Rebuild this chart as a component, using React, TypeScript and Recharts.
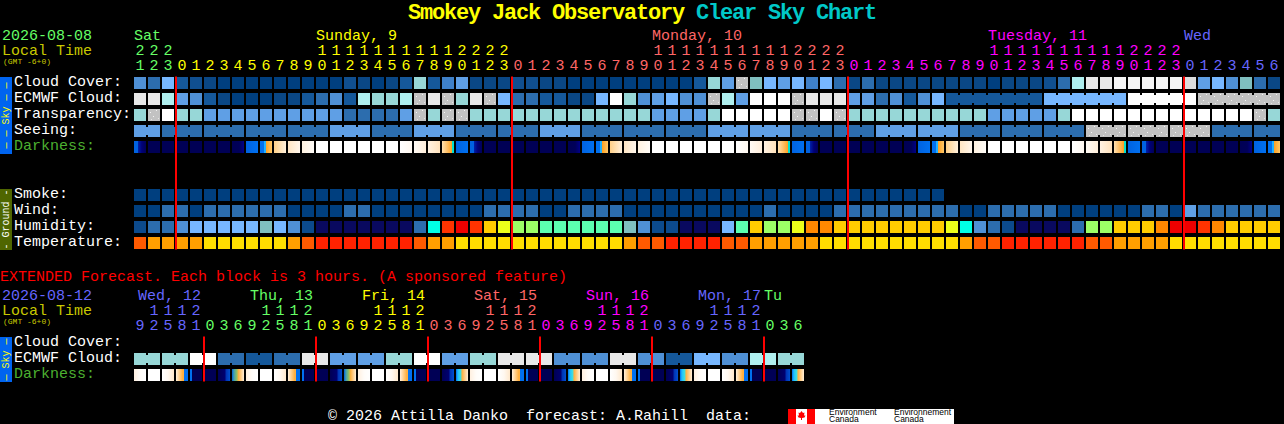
import { ScatterChart, Scatter, XAxis, YAxis } from 'recharts';

const FONT = '"Liberation Mono", monospace';

// ---- hourly chart (one block per hour) ----
const hours = [
  21, 22, 23,
  0, 1, 2, 3, 4, 5, 6, 7, 8, 9, 10, 11, 12, 13, 14, 15, 16, 17, 18, 19, 20, 21, 22, 23,
  0, 1, 2, 3, 4, 5, 6, 7, 8, 9, 10, 11, 12, 13, 14, 15, 16, 17, 18, 19, 20, 21, 22, 23,
  0, 1, 2, 3, 4, 5, 6, 7, 8, 9, 10, 11, 12, 13, 14, 15, 16, 17, 18, 19, 20, 21, 22, 23,
  0, 1, 2, 3, 4, 5, 6,
];
const dayLabels = ['Sat', 'Sunday, 9', 'Monday, 10', 'Tuesday, 11', 'Wed'];
const dayLabelCells = [0, 13, 37, 61, 75];
const midnights = [3, 27, 51, 75];
const rowLabels = ['Cloud Cover:', 'ECMWF Cloud:', 'Transparency:', 'Seeing:', 'Darkness:', '', '', 'Smoke:', 'Wind:', 'Humidity:', 'Temperature:'];

const cloudLevels = [
  6, 4, 8, 3, 2, 1, 0, 0, 0, 0, 0, 0, 0, 0, 0, 2, 1, 0, 1, 3, 10,
  3, 5, 7, 1, 1, 1, 2, 2, 1, 1, 0, 0, 0, 0, 0, 0, 0, 0, 0, 3, 10, 7, 12, 9, 8, 7, 8, 5, 8, 4, 1,
  4, 1, 1, 1, 1, 1, 1, 1, 1, 0, 1, 1, 1, 2, 4, 11, 14, 14, 15, 15, 15, 15, 15, 13, 7, 8, 6, 9, 4, 1,
];
const ecmwfLevels = [
  14, 14, 11, 7, 6, 3, 1, 0, 0, 0, 1, 1, 3, 4, 6, 3, 11, 10, 10, 11, 12,
  14, 12, 10, 14, 12, 8, 4, 4, 3, 3, 1, 1, 8, 16, 10, 6, 7, 8, 6, 6, 12, 11, 7, 16, 16, 16, 12, 14, 14, 14, 7,
  7, 4, 6, 3, 6, 8, 3, 3, 3, 3, 3, 3, 3, 8, 8, 8, 8, 8, 8, 16, 16, 16, 16, 16, 12, 12, 12, 12, 12, 12,
];
const ecmwfRunStart = 58;
const ecmwfRuns = [7, 6, 5, 6];
const transparencyLevels = [
  10, 12, 16, 10, 10, 7, 7, 7, 7, 7, 7, 7, 7, 7, 7, 4, 4, 4, 4, 7, 12,
  10, 12, 12, 10, 10, 10, 10, 10, 10, 10, 10, 10, 10, 10, 10, 10, 7, 7, 7, 7, 10, 16, 16, 16, 16, 16, 12, 12, 16, 12, 10,
  10, 10, 10, 10, 10, 10, 10, 10, 10, 7, 7, 7, 7, 7, 10, 16, 16, 16, 16, 16, 16, 16, 16, 16, 16, 16, 16, 16, 12, 10,
];
const seeingLevels = [
  7, 7, 4, 4, 4, 4, 4, 4, 4, 4, 4, 4, 4, 4, 7, 7, 7, 4, 4, 4, 7,
  7, 7, 4, 4, 4, 4, 4, 4, 7, 7, 7, 4, 4, 4, 4, 4, 4, 4, 4, 4, 7, 7, 7, 7, 7, 7, 4, 4, 4, 4, 4,
  4, 7, 7, 7, 7, 7, 7, 4, 4, 4, 4, 4, 4, 4, 4, 4, 12, 12, 12, 12, 12, 12, 12, 12, 12, 4, 4, 4, 4, 4,
];
const seeingRuns = [2, 3, 3, 3, 3, 3, 3, 3, 3, 3, 3, 3, 3, 3, 3, 3, 3, 3, 3, 3, 3, 3, 3, 3, 3, 3, 3, 2];
const darknessKinds = [
  12, 0, 0, 0, 0, 0, 0, 1, 2, 3, 4, 5, 6, 7, 7, 7, 7, 7, 7, 8, 9, 10, 11, 2,
  12, 0, 0, 0, 0, 0, 0, 1, 2, 3, 4, 5, 6, 7, 7, 7, 7, 7, 7, 8, 9, 10, 11, 2,
  12, 0, 0, 0, 0, 0, 0, 1, 2, 3, 4, 5, 6, 7, 7, 7, 7, 7, 7, 8, 9, 10, 11, 2,
  12, 0, 0, 0, 0, 0, 0, 1, 2, 3,
];
const smokeLevels = [
  0, 0, 0, 0, 0, 0, 0, 0, 0, 0, 0, 0, 0, 0, 0, 0, 0, 0, 0, 0, 0, 0, 0, 0, 0, 0, 0, 0, 0,
  0, 0, 0, 0, 0, 0, 0, 0, 0, 0, 0, 0, 0, 0, 0, 0, 0, 0, 0, 0, 0, 0, 0, 0, 0, 0, 0, 0, 0,
];
const windLevels = [
  0, 0, 4, 4, 0, 4, 4, 4, 4, 4, 4, 0, 0, 0, 0, 4, 4, 0, 0, 0, 0,
  0, 0, 0, 0, 4, 4, 4, 4, 0, 0, 4, 4, 4, 4, 0, 0, 0, 0, 0, 0, 0, 0, 0, 0, 4, 0, 0, 0, 0, 4, 4,
  4, 4, 4, 4, 4, 4, 4, 0, 0, 4, 4, 4, 4, 4, 0, 0, 0, 0, 0, 0, 4, 4, 0, 7, 4, 4, 4, 4, 4, 4,
];
const humidityLevels = [
  1, 2, 2, 3, 4, 4, 4, 4, 4, 5, 4, 3, 1, 0, 0, 0, 0, 0, 0, 0, 2,
  13, 11, 12, 11, 9, 8, 7, 7, 6, 6, 6, 6, 6, 6, 5, 3, 1, 1, 0, 0, 0, 4, 6, 9, 7, 7, 8, 10, 10, 9, 9,
  9, 9, 9, 9, 9, 9, 8, 13, 3, 2, 1, 0, 0, 0, 0, 2, 7, 7, 9, 9, 9, 10, 12, 12, 11, 10, 9, 9, 9, 9,
];
const temperatureLevels = [
  1, 2, 2, 2, 2, 3, 3, 3, 3, 3, 3, 2, 1, 0, 0, 0, 0, 0, 0, 0, 1,
  2, 2, 3, 3, 3, 3, 3, 3, 3, 3, 3, 3, 3, 3, 2, 1, 1, 0, 0, 0, 0, 1, 1, 2, 2, 2, 2, 2, 3, 3, 3,
  3, 3, 3, 3, 3, 3, 3, 2, 1, 1, 0, 0, 0, 0, 0, 0, 1, 1, 2, 2, 2, 2, 3, 3, 3, 3, 3, 3, 3, 3,
];

// ---- extended chart (one block per 3 hours) ----
const extHours = [
  9, 12, 15, 18, 21,
  0, 3, 6, 9, 12, 15, 18, 21,
  0, 3, 6, 9, 12, 15, 18, 21,
  0, 3, 6, 9, 12, 15, 18, 21,
  0, 3, 6, 9, 12, 15, 18, 21,
  0, 3, 6, 9, 12, 15, 18, 21,
  0, 3, 6,
];
const extDayLabels = ['Wed, 12', 'Thu, 13', 'Fri, 14', 'Sat, 15', 'Sun, 16', 'Mon, 17', 'Tu'];
const extDayLabelCells = [0, 8, 16, 24, 32, 40, 45];
const extMidnights = [5, 13, 21, 29, 37, 45];
const extRowLabels = ['Cloud Cover:', 'ECMWF Cloud:', 'Darkness:'];
const extEcmwfLevels = [
  10, 10, 10, 10, 16, 16, 4, 4, 3, 3, 4, 4, 14, 14, 7, 7, 7, 7, 10, 10, 16, 16, 7, 7,
  10, 10, 14, 14, 14, 14, 6, 6, 6, 6, 14, 14, 6, 6, 3, 3, 8, 8, 6, 6, 11, 11, 10, 10,
];
const extEcmwfRuns = [2, 2, 2, 2, 2, 2, 2, 2, 2, 2, 2, 2, 2, 2, 2, 2, 2, 2, 2, 2, 2, 2, 2, 2];
const extDarknessKinds = [
  13, 7, 14, 15, 16, 0, 17, 18,
  13, 7, 14, 15, 16, 0, 17, 18,
  13, 7, 14, 15, 16, 0, 17, 19,
  13, 7, 14, 15, 16, 0, 17, 19,
  13, 7, 14, 15, 16, 0, 17, 19,
  13, 7, 14, 15, 16, 0, 17, 19,
];

// ---- colours ----
const skyColors = ['#003F7F', '#0A4785', '#104F90', '#15589A', '#2C6DAE', '#3F80C8', '#4F90D5', '#5F9FE5', '#77B7FF', '#7FBFBF', '#97D7D7', '#AFEFEF', '#C2C2C2', '#DCDCDC', '#E8E8E8', '#F5F5F5', '#FFFFFF'];
const humidityColors = ['#09095F', '#0C4A8C', '#2C6DAE', '#4F90D5', '#77B7FF', '#7FBFBF', '#5CFFB0', '#9CFF66', '#ECFF1A', '#FFCC00', '#FF8800', '#FF3300', '#EE0000', '#00FFE5'];
const temperatureColors = ['#FF2200', '#FF5A00', '#FF9F00', '#FFDD00'];
const dayColors = ['#66FF66', '#FFFF00', '#FF6666', '#FF00FF', '#6666FF'];
const extDayColors = ['#6666FF', '#66FF66', '#FFFF00', '#FF6666', '#FF00FF', '#6666FF', '#66FF66'];

type Stop = [number, string];
const darknessStops: Stop[][] = [
  [[0, '#000055'], [1, '#000055']], // 0 night
  [[0, '#000055'], [0.6, '#000058'], [1, '#000088']], // 1 before dawn
  [[0, '#0062E0'], [1, '#0070F0']], // 2 twilight
  [[0, '#0070F0'], [0.33, '#0070F0'], [0.34, '#20B0FF'], [0.5, '#20B0FF'], [0.51, '#FFA020'], [1, '#FFC868']], // 3 dawn
  [[0, '#FFD088'], [1, '#FFF0DC']], // 4
  [[0, '#FFE6C4'], [1, '#FFF6EC']], // 5
  [[0, '#FFF2E0'], [1, '#FFFCF8']], // 6
  [[0, '#FFFFFF'], [1, '#FFFFFF']], // 7 day
  [[0, '#FFFFFF'], [1, '#FFF8F0']], // 8
  [[0, '#FFFAF4'], [1, '#FFEEDA']], // 9
  [[0, '#FFF2E2'], [1, '#FFE2BC']], // 10
  [[0, '#FFE0B0'], [0.75, '#FFA830'], [0.83, '#FFA020'], [0.84, '#00E0D0'], [1, '#00E0D0']], // 11 dusk
  [[0, '#0062E0'], [0.33, '#0062E0'], [0.34, '#0020A8'], [0.65, '#000078'], [1, '#000058']], // 12 after dusk
  [[0, '#FFF0E0'], [0.5, '#FFFCF8'], [1, '#FFFFFF']], // 13 extended
  [[0, '#FFFFFF'], [0.5, '#FFF8F0'], [1, '#FFE8CC']], // 14
  [[0, '#FFF0DC'], [0.55, '#FFB040'], [0.64, '#FFB040'], [0.65, '#0070F0'], [1, '#0070F0']], // 15
  [[0, '#0070F0'], [0.16, '#0070F0'], [0.17, '#000055'], [1, '#000055']], // 16
  [[0, '#000055'], [0.6, '#000070'], [0.65, '#0030B0'], [1, '#0050D0']], // 17
  [[0, '#0060D8'], [0.16, '#40A0B0'], [0.4, '#90C060'], [0.55, '#FFB040'], [1, '#FFEED8']], // 18
  [[0, '#0070F0'], [0.16, '#20C0FF'], [0.4, '#40E0E0'], [0.5, '#FFB040'], [1, '#FFEED8']], // 19
];

const titleYellow = 'Smokey Jack Observatory ';
const titleCyan = 'Clear Sky Chart';

type Point = { x: number; y: number; level: number; joined: boolean };

// one point per block; joined means it runs on into the next block
function rowPoints(levels: number[], row: number, runs: number[] = [], runStart = 0): Point[] {
  const joined = new Set<number>();
  let at = runStart;
  runs.forEach((len) => {
    for (let k = 0; k < len - 1; k++) joined.add(at + k);
    at += len;
  });
  return levels.map((level, i) => ({ x: i + 0.5, y: row + 0.5, level, joined: joined.has(i) }));
}

// block sits 14px pitch, 12px wide, starting at the cell's left edge
const blockShape = (colors: string[]) => (props: any) => {
  const { cx, cy, payload } = props;
  const fill = colors[payload.level];
  return (
    <g>
      <rect x={cx - 7} y={cy - 6} width={12} height={12} fill={fill} />
      {payload.joined && <rect x={cx + 5} y={cy - 4} width={2} height={8} fill={fill} />}
      {fill === '#C2C2C2' && <rect x={cx - 7} y={cy - 6} width={12} height={12} fill="url(#grayNoise)" />}
    </g>
  );
};

const darkShape = (props: any) => {
  const { cx, cy, payload } = props;
  return <rect x={cx - 7} y={cy - 6} width={12} height={12} fill={`url(#dark${payload.level})`} />;
};

// red midnight bar, drawn as the last series so it stays over the blocks
const midnightShape = (span: number) => (props: any) => {
  const { cx, cy } = props;
  return <rect x={cx - 1} y={cy - span / 2} width={2} height={span} fill="#FF0000" />;
};

function hourTick(
  cellHours: number[],
  colorOf: (i: number) => string,
  labels: string[],
  labelCells: number[],
  labelInset: (k: number) => number,
  dayY: number,
) {
  return (props: any) => {
    const i = props.payload.value - 0.5;
    const h = cellHours[i];
    const fill = colorOf(i);
    const k = labelCells.indexOf(i);
    const common = { fontFamily: FONT, fontSize: 15, fill };
    return (
      <g>
        {k >= 0 && (
          <text x={props.x - 7 + labelInset(k)} y={dayY} {...common}>
            {labels[k]}
          </text>
        )}
        {h >= 10 && (
          <text x={props.x - 1} y={dayY + 15} textAnchor="middle" {...common}>
            {Math.floor(h / 10)}
          </text>
        )}
        <text x={props.x - 1} y={dayY + 30} textAnchor="middle" {...common}>
          {h % 10}
        </text>
      </g>
    );
  };
}

function rowTick(labels: string[]) {
  return (props: any) => {
    const label = labels[props.payload.value - 0.5];
    return (
      <text x={14} y={props.y + 3} fontFamily={FONT} fontSize={15} fill={label === 'Darkness:' ? '#4CB030' : '#FFFFFF'}>
        {label}
      </text>
    );
  };
}

function dayIndexes(cellHours: number[]) {
  let day = 0;
  return cellHours.map((h, i) => {
    if (h === 0 && i > 0) day += 1;
    return day;
  });
}

const cellDays = dayIndexes(hours);
const extCellDays = dayIndexes(extHours);
const hourTicks = hours.map((_, i) => i + 0.5);
const extHourTicks = extHours.map((_, i) => i + 0.5);
const rowTicks = rowLabels.map((_, i) => i + 0.5);
const extRowTicks = extRowLabels.map((_, i) => i + 0.5);

function Strip({ y, height, fill, color, label }: { y: number; height: number; fill: string; color: string; label: string }) {
  const mid = y + height / 2;
  return (
    <g>
      <rect x={0} y={y} width={12} height={height} fill={fill} />
      <text
        x={6}
        y={mid}
        fill={color}
        fontFamily={FONT}
        fontSize={10}
        textAnchor="middle"
        dominantBaseline="central"
        transform={`rotate(-90 6 ${mid})`}
        style={{ whiteSpace: 'pre' }}
      >
        {label}
      </text>
    </g>
  );
}

function Txt({ x, y, fill, size = 15, weight, children }: any) {
  return (
    <text x={x} y={y} fill={fill} fontFamily={FONT} fontSize={size} fontWeight={weight} style={{ whiteSpace: 'pre' }}>
      {children}
    </text>
  );
}

function Overlay() {
  return (
    <svg width={1284} height={424} style={{ position: 'absolute', left: 0, top: 0 }}>
      <defs>
        {darknessStops.map((stops, k) => (
          <linearGradient key={k} id={`dark${k}`} x1="0" x2="1" y1="0" y2="0">
            {stops.map(([offset, color], s) => (
              <stop key={s} offset={offset} stopColor={color} />
            ))}
          </linearGradient>
        ))}
        <pattern id="grayNoise" width="1" height="1" patternContentUnits="userSpaceOnUse">
          <rect x={2} y={3} width={1} height={1} fill="#F4F4F4" />
          <rect x={8} y={1} width={1} height={1} fill="#F4F4F4" />
          <rect x={5} y={7} width={1} height={1} fill="#F4F4F4" />
          <rect x={10} y={9} width={1} height={1} fill="#E4E4E4" />
          <rect x={3} y={10} width={1} height={1} fill="#E4E4E4" />
        </pattern>
      </defs>

      <text x={408} y={19} fontFamily={FONT} fontSize={22} fontWeight="bold" letterSpacing={-1.2} style={{ whiteSpace: 'pre' }}>
        <tspan fill="#FFFF00">{titleYellow}</tspan>
        <tspan fill="#00C8C8">{titleCyan}</tspan>
      </text>

      <Txt x={2} y={40} fill="#66FF66">2026-08-08</Txt>
      <Txt x={2} y={55} fill="#C8C800">Local Time</Txt>
      <Txt x={3} y={64} fill="#C8C800" size={8}>(GMT -6+0)</Txt>
      <Strip y={77} height={77} fill="#0064F0" color="#FFFF00" label="— — Sky — —" />
      <Strip y={189} height={61} fill="#4F6600" color="#FFFFFF" label="- Ground -" />

      <Txt x={0} y={281} fill="#FF0000">EXTENDED Forecast. Each block is 3 hours. (A sponsored feature)</Txt>
      <Txt x={2} y={300} fill="#6666FF">2026-08-12</Txt>
      <Txt x={2} y={315} fill="#C8C800">Local Time</Txt>
      <Txt x={3} y={324} fill="#C8C800" size={8}>(GMT -6+0)</Txt>
      <Strip y={337} height={45} fill="#0064F0" color="#FFFF00" label="— Sky —" />

      <Txt x={328} y={420} fill="#FFFFFF">{'© 2026 Attilla Danko  forecast: A.Rahill  data:'}</Txt>
      <rect x={788} y={409} width={166} height={15} fill="#FFFFFF" />
      <rect x={788} y={409} width={8} height={15} fill="#FF0000" />
      <rect x={807} y={409} width={8} height={15} fill="#FF0000" />
      <path d="M801.5 411 l1.5 2 1.5-.5 -.5 3 1.5 0 -1 2 -2.5 .5 0 2 -1 0 0-2 -2.5-.5 -1-2 1.5 0 -.5-3 1.5 .5z" fill="#FF0000" />
      <text x={829} y={415} fontFamily="Liberation Sans" fontSize={8.5} fill="#000000">Environment</text>
      <text x={829} y={422} fontFamily="Liberation Sans" fontSize={8.5} fill="#000000">Canada</text>
      <text x={894} y={415} fontFamily="Liberation Sans" fontSize={8.5} fill="#000000">Environnement</text>
      <text x={894} y={422} fontFamily="Liberation Sans" fontSize={8.5} fill="#000000">Canada</text>
    </svg>
  );
}

function HourlyChart() {
  return (
    <ScatterChart width={1284} height={251} margin={{ top: 0, right: 2, bottom: 0, left: 0 }}>
      <XAxis
        type="number"
        dataKey="x"
        orientation="top"
        height={75}
        domain={[0, 82]}
        ticks={hourTicks}
        interval={0}
        axisLine={false}
        tickLine={false}
        tick={hourTick(hours, (i) => dayColors[cellDays[i]], dayLabels, dayLabelCells, () => 0, 40)}
      />
      <YAxis
        type="number"
        dataKey="y"
        width={134}
        reversed
        domain={[0, 11]}
        ticks={rowTicks}
        interval={0}
        axisLine={false}
        tickLine={false}
        tick={rowTick(rowLabels)}
      />
      <Scatter data={rowPoints(cloudLevels, 0)} shape={blockShape(skyColors)} isAnimationActive={false} />
      <Scatter data={rowPoints(ecmwfLevels, 1, ecmwfRuns, ecmwfRunStart)} shape={blockShape(skyColors)} isAnimationActive={false} />
      <Scatter data={rowPoints(transparencyLevels, 2)} shape={blockShape(skyColors)} isAnimationActive={false} />
      <Scatter data={rowPoints(seeingLevels, 3, seeingRuns)} shape={blockShape(skyColors)} isAnimationActive={false} />
      <Scatter data={rowPoints(darknessKinds, 4)} shape={darkShape} isAnimationActive={false} />
      <Scatter data={rowPoints(smokeLevels, 7)} shape={blockShape(skyColors)} isAnimationActive={false} />
      <Scatter data={rowPoints(windLevels, 8)} shape={blockShape(skyColors)} isAnimationActive={false} />
      <Scatter data={rowPoints(humidityLevels, 9)} shape={blockShape(humidityColors)} isAnimationActive={false} />
      <Scatter data={rowPoints(temperatureLevels, 10)} shape={blockShape(temperatureColors)} isAnimationActive={false} />
      <Scatter data={midnights.map((m) => ({ x: m, y: 5.5 }))} shape={midnightShape(173)} isAnimationActive={false} />
    </ScatterChart>
  );
}

function ExtendedChart() {
  return (
    <ScatterChart width={1284} height={113} margin={{ top: 0, right: 478, bottom: 0, left: 0 }}>
      <XAxis
        type="number"
        dataKey="x"
        orientation="top"
        height={65}
        domain={[0, 48]}
        ticks={extHourTicks}
        interval={0}
        axisLine={false}
        tickLine={false}
        tick={hourTick(extHours, (i) => extDayColors[extCellDays[i]], extDayLabels, extDayLabelCells, (k) => (k === 6 ? 0 : 4), 30)}
      />
      <YAxis
        type="number"
        dataKey="y"
        width={134}
        reversed
        domain={[0, 3]}
        ticks={extRowTicks}
        interval={0}
        axisLine={false}
        tickLine={false}
        tick={rowTick(extRowLabels)}
      />
      <Scatter data={rowPoints(extEcmwfLevels, 1, extEcmwfRuns)} shape={blockShape(skyColors)} isAnimationActive={false} />
      <Scatter data={rowPoints(extDarknessKinds, 2)} shape={darkShape} isAnimationActive={false} />
      <Scatter data={extMidnights.map((m) => ({ x: m, y: 1.5 }))} shape={midnightShape(45)} isAnimationActive={false} />
    </ScatterChart>
  );
}

export default function App() {
  return (
    <div style={{ position: 'absolute', left: 0, top: 0, width: 1284, height: 424, background: '#000000', overflow: 'hidden' }}>
      <Overlay />
      <div style={{ position: 'absolute', left: 0, top: 0 }}>
        <HourlyChart />
      </div>
      <div style={{ position: 'absolute', left: 0, top: 270 }}>
        <ExtendedChart />
      </div>
    </div>
  );
}
